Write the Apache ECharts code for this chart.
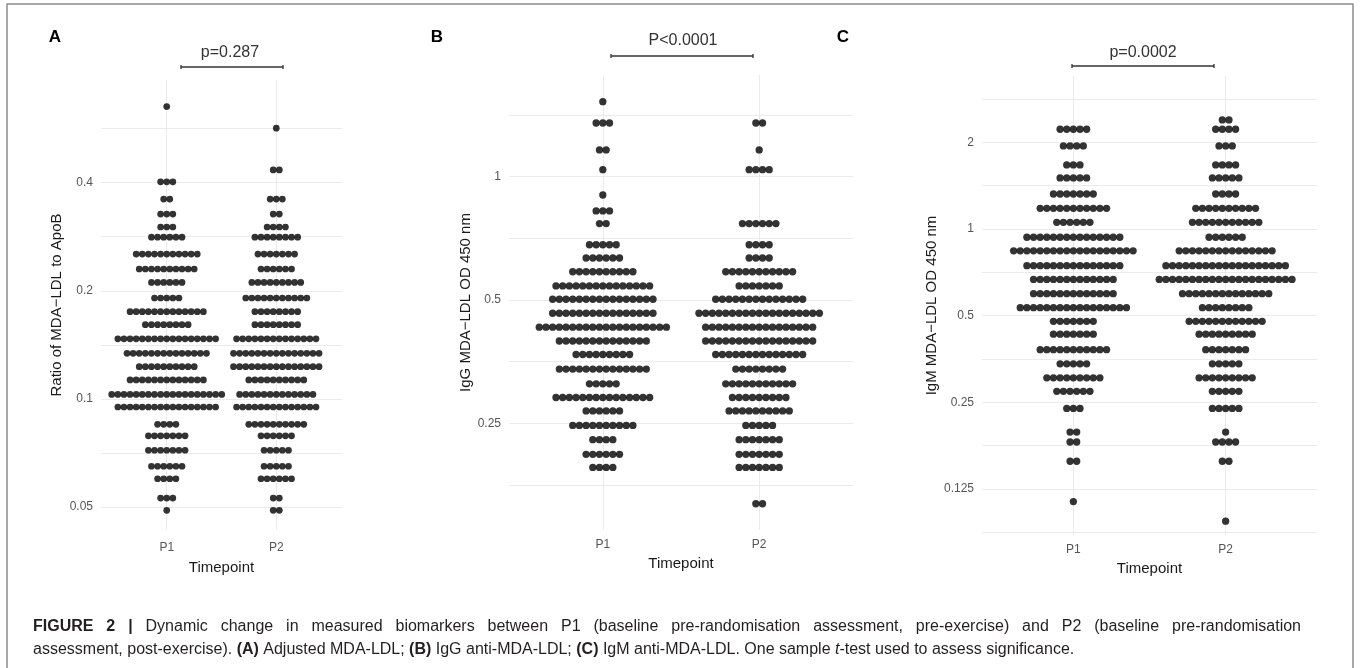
<!DOCTYPE html>
<html>
<head>
<meta charset="utf-8">
<title>Figure 2</title>
<script src="https://cdn.jsdelivr.net/npm/echarts@6/dist/echarts.min.js"></script>
<style>
  html, body { margin: 0; padding: 0; background: #fff; }
  #chart { width: 1360px; height: 668px; }
</style>
</head>
<body>
<div id="chart"></div>
<script>
// x categories
const timepoints = ['P1', 'P2'];

// A: ratio of MDA-LDL to ApoB -- dotplot bins and dots per bin
const binsA = [0.651, 0.567, 0.434, 0.402, 0.360, 0.327, 0.301, 0.282, 0.253, 0.230, 0.211, 0.191, 0.175, 0.161,
  0.147, 0.134, 0.123, 0.113, 0.103, 0.095, 0.085, 0.079, 0.072, 0.065, 0.060, 0.053, 0.049];
const countsA_P1 = [1, 0, 0, 3, 2, 3, 3, 6, 11, 10, 6, 5, 13, 8, 17, 14, 10, 13, 19, 17, 4, 7, 7, 6, 4, 3, 1];
const countsA_P2 = [0, 1, 2, 0, 3, 2, 4, 8, 7, 6, 9, 11, 8, 8, 14, 15, 15, 10, 13, 14, 10, 6, 5, 5, 6, 2, 2];
const ticksA = [0.05, 0.1, 0.2, 0.4];
const tickLabelsA = ['0.05', '0.1', '0.2', '0.4'];

// B: IgG MDA-LDL OD 450 nm
const binsB = [1.524, 1.352, 1.162, 1.040, 0.902, 0.825, 0.768, 0.682, 0.633, 0.586, 0.541, 0.502, 0.464, 0.429,
  0.397, 0.368, 0.339, 0.312, 0.289, 0.268, 0.247, 0.228, 0.210, 0.195, 0.159];
const countsB_P1 = [1, 3, 2, 1, 1, 3, 2, 5, 6, 10, 15, 16, 16, 20, 14, 9, 14, 5, 15, 6, 10, 4, 6, 4, 0];
const countsB_P2 = [0, 2, 1, 4, 0, 0, 6, 4, 4, 11, 7, 14, 19, 17, 17, 14, 8, 11, 9, 10, 5, 7, 7, 7, 2];
const ticksB = [0.25, 0.5, 1];
const tickLabelsB = ['0.25', '0.5', '1'];

// C: IgM MDA-LDL OD 450 nm
const binsC = [2.393, 2.221, 1.943, 1.669, 1.504, 1.323, 1.180, 1.055, 0.936, 0.840, 0.746, 0.668, 0.596, 0.533,
  0.478, 0.431, 0.381, 0.340, 0.304, 0.273, 0.238, 0.197, 0.182, 0.156, 0.113, 0.0966];
const countsC_P1 = [0, 5, 4, 3, 5, 7, 11, 6, 15, 19, 15, 13, 13, 17, 7, 7, 11, 5, 9, 6, 3, 2, 2, 2, 1, 0];
const countsC_P2 = [2, 4, 3, 4, 5, 4, 10, 11, 6, 15, 19, 21, 14, 8, 12, 9, 7, 5, 9, 5, 5, 1, 4, 2, 0, 1];
const ticksC = [0.125, 0.25, 0.5, 1, 2];
const tickLabelsC = ['0.125', '0.25', '0.5', '1', '2'];

const pValues = ['p=0.287', 'P<0.0001', 'p=0.0002'];

const FONT = '"Liberation Sans", Arial, Helvetica, sans-serif';

// panel layout (pixels) and axis limits
const panels = [
  {
    letter: 'A', bins: binsA, p1: countsA_P1, p2: countsA_P2, ticks: ticksA, labels: tickLabelsA,
    yMin: 0.0432, yMax: 0.772, title: 'Ratio of MDA\u2212LDL to ApoB',
    grid: { left: 101, top: 80, width: 241, height: 450 },
    step: 0.0558, size: 6.7, nameGap: 37, xNameGap: 30, xLabelMargin: 12,
    letterPos: [55, 37], pPos: [230, 53], bracket: [181, 283, 67]
  },
  {
    letter: 'B', bins: binsB, p1: countsB_P1, p2: countsB_P2, ticks: ticksB, labels: tickLabelsB,
    yMin: 0.1372, yMax: 1.771, title: 'IgG MDA\u2212LDL OD 450 nm',
    grid: { left: 509, top: 75, width: 344, height: 455 },
    step: 0.0428, size: 7.3, nameGap: 35, xNameGap: 24, xLabelMargin: 9,
    letterPos: [437, 37], pPos: [683, 41], bracket: [611, 753, 56]
  },
  {
    letter: 'C', bins: binsC, p1: countsC_P1, p2: countsC_P2, ticks: ticksC, labels: tickLabelsC,
    yMin: 0.0865, yMax: 3.40, title: 'IgM MDA\u2212LDL OD 450 nm',
    grid: { left: 982, top: 76, width: 335, height: 459 },
    step: 0.0436, size: 7.3, nameGap: 43, xNameGap: 24, xLabelMargin: 9,
    letterPos: [843, 37], pPos: [1143, 53], bracket: [1072, 1214, 66]
  }
];

// dots of one bin are stacked side by side, centred on the group
function stackDots(bins, counts, group, step) {
  const out = [];
  bins.forEach((v, k) => {
    const n = counts[k];
    for (let i = 0; i < n; i++) {
      out.push([group + (i - (n - 1) / 2) * step, Math.log2(v)]);
    }
  });
  return out;
}

// log2 scale: grid lines at the breaks and halfway between them
function gridValues(ticks, lo, hi) {
  const vals = [];
  ticks.forEach(t => {
    const l = Math.log2(t);
    vals.push(l - 0.5, l, l + 0.5);
  });
  return [...new Set(vals.map(v => +v.toFixed(6)))].filter(v => v > lo && v < hi);
}

const chart = echarts.init(document.getElementById('chart'));

const grids = [], xAxes = [], yAxes = [], series = [], graphics = [];

panels.forEach((p, i) => {
  const lo = Math.log2(p.yMin), hi = Math.log2(p.yMax);
  grids.push(Object.assign({ containLabel: false }, p.grid));

  xAxes.push({
    gridIndex: i, type: 'value', min: 0.4, max: 2.6,
    axisLine: { show: false },
    axisTick: { show: false, customValues: [1, 2] },
    axisLabel: {
      customValues: [1, 2], color: '#555', fontSize: 12, fontFamily: FONT, margin: p.xLabelMargin,
      formatter: v => timepoints[Math.round(v) - 1]
    },
    splitLine: { show: true, lineStyle: { color: '#ebebeb', width: 1 } },
    name: 'Timepoint', nameLocation: 'middle', nameGap: p.xNameGap,
    nameTextStyle: { color: '#1a1a1a', fontSize: 15, fontFamily: FONT }
  });

  yAxes.push({
    gridIndex: i, type: 'value', min: lo, max: hi,
    axisLine: { show: false },
    axisTick: { show: false, customValues: gridValues(p.ticks, lo, hi) },
    axisLabel: {
      customValues: p.ticks.map(Math.log2), color: '#555', fontSize: 12, fontFamily: FONT, margin: 8,
      formatter: v => {
        const k = p.ticks.findIndex(t => Math.abs(Math.log2(t) - v) < 1e-6);
        return k >= 0 ? p.labels[k] : '';
      }
    },
    splitLine: { show: true, lineStyle: { color: '#ebebeb', width: 1 } },
    name: p.title, nameLocation: 'middle', nameGap: p.nameGap,
    nameTextStyle: { color: '#1a1a1a', fontSize: 15, fontFamily: FONT }
  });

  series.push({
    type: 'scatter', xAxisIndex: i, yAxisIndex: i, symbolSize: p.size,
    itemStyle: { color: '#000' }, silent: true,
    data: stackDots(p.bins, p.p1, 1, p.step).concat(stackDots(p.bins, p.p2, 2, p.step))
  });

  // panel letter, p value and bracket
  graphics.push({
    type: 'text', x: p.letterPos[0], y: p.letterPos[1],
    style: { text: p.letter, font: 'bold 17px ' + FONT, fill: '#000', align: 'center', verticalAlign: 'middle' }
  });
  graphics.push({
    type: 'text', x: p.pPos[0], y: p.pPos[1],
    style: { text: pValues[i], font: '16px ' + FONT, fill: '#333', align: 'center', verticalAlign: 'middle' }
  });
  const [bx1, bx2, by] = p.bracket;
  graphics.push({ type: 'line', shape: { x1: bx1, y1: by, x2: bx2, y2: by }, style: { stroke: '#333', lineWidth: 1.3 } });
  graphics.push({ type: 'line', shape: { x1: bx1, y1: by - 2, x2: bx1, y2: by + 2 }, style: { stroke: '#333', lineWidth: 1.3 } });
  graphics.push({ type: 'line', shape: { x1: bx2, y1: by - 2, x2: bx2, y2: by + 2 }, style: { stroke: '#333', lineWidth: 1.3 } });
});

// outer frame
graphics.push({
  type: 'rect', shape: { x: 7, y: 4, width: 1346, height: 680 },
  style: { fill: 'none', stroke: '#8c8c8c', lineWidth: 1.5 }
});

// caption: first line is justified to the full text width, second line ragged
const CAP_COLOR = '#231f20';
const captionLine1 = 'FIGURE 2 | Dynamic change in measured biomarkers between P1 (baseline pre-randomisation assessment, pre-exercise) and P2 (baseline pre-randomisation';
const measureCtx = document.createElement('canvas').getContext('2d');
(function justifyLine(text, boldWords, x0, x1, y) {
  const words = text.split(' ');
  const fonts = words.map((w, k) => (k < boldWords ? 'bold ' : '') + '16px ' + FONT);
  const widths = words.map((w, k) => { measureCtx.font = fonts[k]; return measureCtx.measureText(w).width; });
  const total = widths.reduce((a, b) => a + b, 0);
  const gap = (x1 - x0 - total) / (words.length - 1);
  let x = x0;
  words.forEach((w, k) => {
    graphics.push({
      type: 'text', x: x, y: y,
      style: { text: w, font: fonts[k], fill: CAP_COLOR, verticalAlign: 'middle' }
    });
    x += widths[k] + gap;
  });
})(captionLine1, 3, 33, 1301, 627);

graphics.push({
  type: 'text', x: 33, y: 650,
  style: {
    text: 'assessment, post-exercise). {b|(A)} Adjusted MDA-LDL; {b|(B)} IgG anti-MDA-LDL; {b|(C)} IgM anti-MDA-LDL. One sample {i|t}-test used to assess significance.',
    font: '16px ' + FONT, fill: CAP_COLOR, verticalAlign: 'middle',
    rich: {
      b: { font: 'bold 16px ' + FONT, fill: CAP_COLOR },
      i: { font: 'italic 16px ' + FONT, fill: CAP_COLOR }
    }
  }
});

chart.setOption({
  backgroundColor: '#fff',
  animation: false,
  textStyle: { fontFamily: FONT },
  grid: grids,
  xAxis: xAxes,
  yAxis: yAxes,
  series: series,
  graphic: graphics
});
</script>
</body>
</html>
